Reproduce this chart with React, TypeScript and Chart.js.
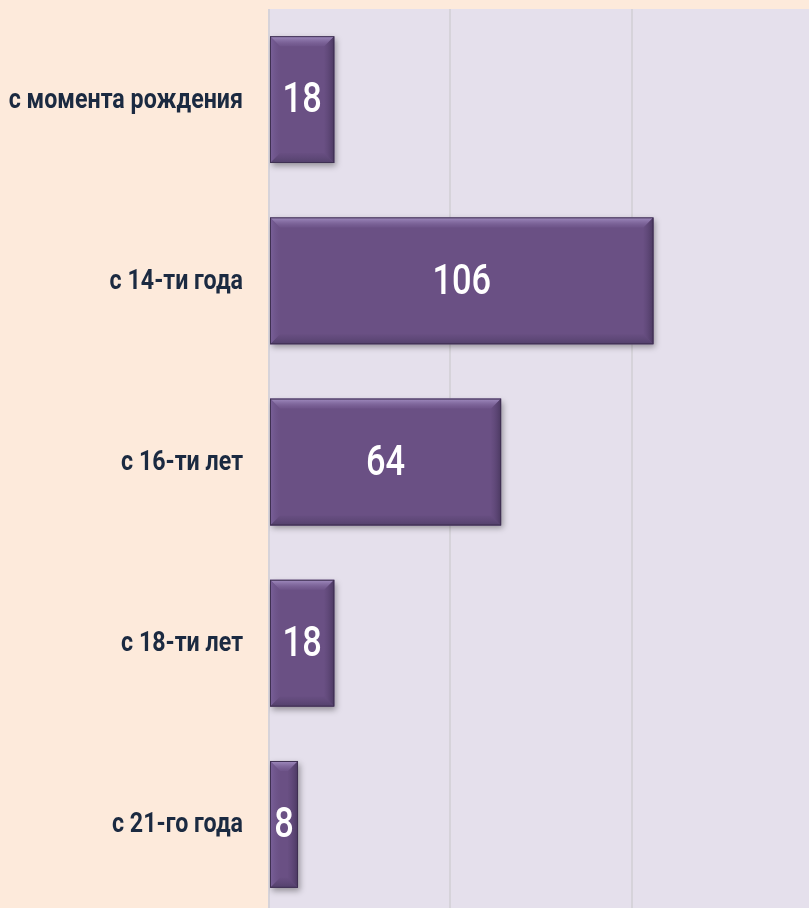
import React, { useEffect, useRef } from "react";
import { Chart, registerables } from "chart.js";

Chart.register(...registerables);

const categories = ["с момента рождения", "с 14-ти года", "с 16-ти лет", "с 18-ти лет", "с 21-го года"];
const values = [18, 106, 64, 18, 8];
const xTicks = [0, 50, 100, 150];

const FONT = "Roboto, 'DejaVu Sans', sans-serif";

function drawSquashed(ctx: any, text: string, x: number, y: number, sx: number, align: string) {
  ctx.save();
  ctx.translate(x, y);
  ctx.scale(sx, 1);
  ctx.textAlign = align;
  ctx.textBaseline = "middle";
  ctx.fillText(text, 0, 0);
  ctx.restore();
}

const bgPlugin = {
  id: "bgPlugin",
  beforeDraw(chart: any) {
    const { ctx, chartArea } = chart;
    ctx.save();
    ctx.fillStyle = "#FDEADB";
    ctx.fillRect(0, 0, chart.width, chart.height);
    ctx.fillStyle = "#E5E0EC";
    ctx.fillRect(chartArea.left - 1, chartArea.top, chartArea.right - chartArea.left + 1, chartArea.bottom - chartArea.top);
    ctx.restore();
  },
  afterDraw(chart: any) {
    const ctx = chart.ctx;
    const yScale = chart.scales.y;
    ctx.save();
    ctx.fillStyle = "#1B2A41";
    ctx.font = `bold 28px ${FONT}`;
    categories.forEach((c, i) => {
      const py = yScale.getPixelForTick(i);
      drawSquashed(ctx, c, chart.chartArea.left - 26, py + 1, 0.83, "right");
    });
    ctx.restore();
  },
  beforeDatasetDraw(chart: any) {
    const ctx = chart.ctx;
    ctx.save();
    ctx.shadowColor = "rgba(0,0,0,0.35)";
    ctx.shadowBlur = 6;
    ctx.shadowOffsetX = 2;
    ctx.shadowOffsetY = 3;
  },
  afterDatasetDraw(chart: any) {
    chart.ctx.restore();
  },
  afterDatasetsDraw(chart: any) {
    const ctx = chart.ctx;
    const meta = chart.getDatasetMeta(0);
    meta.data.forEach((bar: any, i: number) => {
      const { x, y, base, height } = bar.getProps(["x", "y", "base", "height"], true);
      const l = Math.min(base, x);
      const r = Math.max(base, x);
      const t = y - height / 2;
      const b = y + height / 2;
      const bv = 10;
      ctx.save();
      let g = ctx.createLinearGradient(0, t, 0, t + bv);
      g.addColorStop(0, "#A38FC2");
      g.addColorStop(1, "rgba(125,100,155,0.25)");
      ctx.fillStyle = g;
      ctx.beginPath();
      ctx.moveTo(l, t);
      ctx.lineTo(r, t);
      ctx.lineTo(r - bv, t + bv);
      ctx.lineTo(l + bv, t + bv);
      ctx.closePath();
      ctx.fill();
      g = ctx.createLinearGradient(0, b - bv, 0, b);
      g.addColorStop(0, "rgba(90,68,115,0.15)");
      g.addColorStop(1, "#52406A");
      ctx.fillStyle = g;
      ctx.beginPath();
      ctx.moveTo(l, b);
      ctx.lineTo(r, b);
      ctx.lineTo(r - bv, b - bv);
      ctx.lineTo(l + bv, b - bv);
      ctx.closePath();
      ctx.fill();
      g = ctx.createLinearGradient(r - bv, 0, r, 0);
      g.addColorStop(0, "rgba(90,68,115,0.1)");
      g.addColorStop(1, "#4A3860");
      ctx.fillStyle = g;
      ctx.beginPath();
      ctx.moveTo(r, t);
      ctx.lineTo(r, b);
      ctx.lineTo(r - bv, b - bv);
      ctx.lineTo(r - bv, t + bv);
      ctx.closePath();
      ctx.fill();
      g = ctx.createLinearGradient(l, 0, l + bv, 0);
      g.addColorStop(0, "#7A619A");
      g.addColorStop(1, "rgba(110,85,140,0.1)");
      ctx.fillStyle = g;
      ctx.beginPath();
      ctx.moveTo(l, t);
      ctx.lineTo(l, b);
      ctx.lineTo(l + bv, b - bv);
      ctx.lineTo(l + bv, t + bv);
      ctx.closePath();
      ctx.fill();
      ctx.strokeStyle = "#3F3052";
      ctx.lineWidth = 1;
      ctx.strokeRect(l + 0.5, t + 0.5, r - l - 1, b - t - 1);
      ctx.fillStyle = "#FFFFFF";
      ctx.font = `500 43px ${FONT}`;
      drawSquashed(ctx, String(values[i]), (l + r) / 2, y + 2, 0.8, "center");
      ctx.restore();
    });
  },
};

export default function App() {
  const ref = useRef<HTMLCanvasElement>(null);
  useEffect(() => {
    document.body.style.margin = "0";
    const chart = new Chart(ref.current!, {
      type: "bar",
      data: {
        labels: categories,
        datasets: [
          {
            data: values,
            backgroundColor: "#6A5084",
            borderWidth: 0,
            categoryPercentage: 1,
            barPercentage: 0.7,
          },
        ],
      },
      options: {
        indexAxis: "y",
        animation: false,
        responsive: false,
        layout: { padding: { top: 9, right: 2, left: 0, bottom: 0 } },
        plugins: { legend: { display: false }, tooltip: { enabled: false } },
        scales: {
          x: {
            min: 0,
            max: 150,
            afterBuildTicks(scale: any) {
              scale.ticks = xTicks.map((v) => ({ value: v }));
            },
            afterFit(scale: any) {
              scale.height = 0;
              scale.paddingLeft = 0;
              scale.paddingRight = 0;
            },
            ticks: { display: false },
            grid: { color: "#D6D3DA", lineWidth: 2, drawTicks: false },
            border: { display: false },
          },
          y: {
            afterFit(scale: any) {
              scale.width = 269;
              scale.paddingTop = 0;
              scale.paddingBottom = 0;
            },
            ticks: { display: false },
            grid: { display: false, drawTicks: false },
            border: { display: false },
          },
        },
      },
      plugins: [bgPlugin],
    });
    return () => chart.destroy();
  }, []);
  return (
    <div style={{ position: "fixed", left: 0, top: 0, width: 809, height: 908, overflow: "hidden" }}>
      <canvas ref={ref} width={815} height={915} style={{ display: "block" }} />
    </div>
  );
}
